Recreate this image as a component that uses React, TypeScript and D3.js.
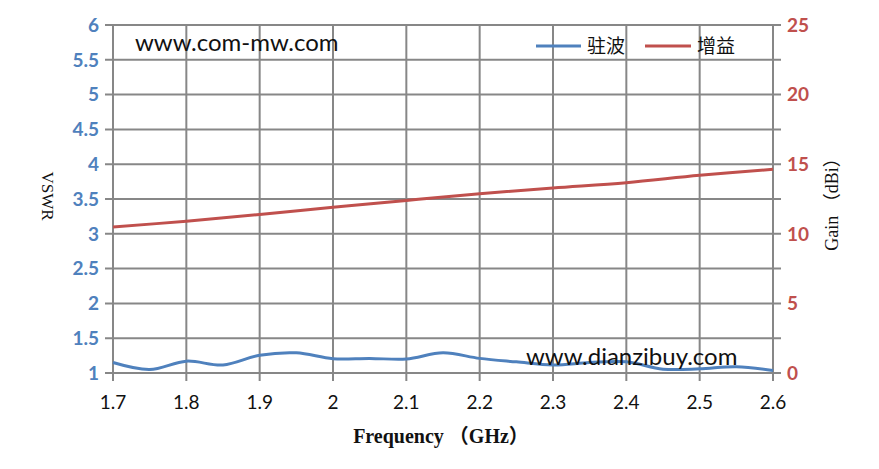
import React from 'react';
import * as d3 from 'd3';

// frequency grid (GHz)
const vswrFreq = [1.7, 1.75, 1.8, 1.85, 1.9, 1.95, 2.0, 2.05, 2.1, 2.15, 2.2, 2.25, 2.3, 2.35, 2.4, 2.45, 2.5, 2.55, 2.6];
const vswrValues = [1.15, 1.05, 1.17, 1.115, 1.255, 1.29, 1.205, 1.21, 1.2, 1.29, 1.21, 1.16, 1.115, 1.15, 1.16, 1.055, 1.06, 1.09, 1.035];

const gainFreq = [1.7, 1.8, 1.9, 2.0, 2.1, 2.2, 2.3, 2.4, 2.5, 2.6];
const gainValues = [10.48, 10.91, 11.39, 11.9, 12.4, 12.88, 13.29, 13.67, 14.2, 14.63];

const xTicks = [1.7, 1.8, 1.9, 2.0, 2.1, 2.2, 2.3, 2.4, 2.5, 2.6];
const leftTicks = [1, 1.5, 2, 2.5, 3, 3.5, 4, 4.5, 5, 5.5, 6];
const rightTicks = [0, 5, 10, 15, 20, 25];

const seriesNames = ['驻波', '增益'];

const W = 879;
const H = 469;
const plot = { left: 113, right: 773, top: 25, bottom: 373 };

const BLUE = '#4F81BD';
const RED = '#C0504D';
const GRID = '#878787';
const NUM_FONT = 'Lato, "Open Sans", sans-serif';
const SERIF = '"Liberation Serif", "Noto Sans CJK SC", serif';

const App: React.FC = () => {
  const x = d3.scaleLinear().domain([1.7, 2.6]).range([plot.left, plot.right]);
  const yL = d3.scaleLinear().domain([1, 6]).range([plot.bottom, plot.top]);
  const yR = d3.scaleLinear().domain([0, 25]).range([plot.bottom, plot.top]);

  const vswrLine = d3.line<number>()
    .x((_, i) => x(vswrFreq[i]))
    .y(d => yL(d))
    .curve(d3.curveCatmullRom.alpha(0.5));

  const gainLine = d3.line<number>()
    .x((_, i) => x(gainFreq[i]))
    .y(d => yR(d))
    .curve(d3.curveCatmullRom.alpha(0.5));

  return (
    <svg width={W} height={H} style={{ position: 'absolute', left: 0, top: 0, background: '#fff' }}>
      {/* horizontal grid with ticks on both sides */}
      {leftTicks.map(t => (
        <line key={'h' + t} x1={plot.left - 8} x2={plot.right + 8} y1={yL(t)} y2={yL(t)}
          stroke={GRID} strokeWidth={2} />
      ))}
      {/* vertical grid with ticks below */}
      {xTicks.map(t => (
        <line key={'v' + t} x1={x(t)} x2={x(t)} y1={plot.top} y2={plot.bottom + 8}
          stroke={GRID} strokeWidth={2} />
      ))}

      {/* left tick labels */}
      {leftTicks.map(t => (
        <text key={'lt' + t} x={99} y={yL(t)} dy="0.36em" textAnchor="end"
          fontFamily={NUM_FONT} fontWeight="bold" fontSize={19} fill={BLUE}>{t}</text>
      ))}
      {/* right tick labels */}
      {rightTicks.map(t => (
        <text key={'rt' + t} x={787} y={yR(t)} dy="0.36em" textAnchor="start"
          fontFamily={NUM_FONT} fontWeight="bold" fontSize={19} fill={RED}>{t}</text>
      ))}
      {/* x tick labels */}
      {xTicks.map(t => (
        <text key={'xt' + t} x={x(t)} y={409} textAnchor="middle"
          fontFamily={NUM_FONT} fontSize={19} fill="#111">{t}</text>
      ))}

      {/* series */}
      <path d={gainLine(gainValues) || ''} fill="none" stroke={RED} strokeWidth={3} />
      <path d={vswrLine(vswrValues) || ''} fill="none" stroke={BLUE} strokeWidth={3} />

      {/* watermarks */}
      <text x={135} y={51} fontFamily={NUM_FONT} fontSize={24} fill="#111">www.com-mw.com</text>
      <text x={526} y={365} fontFamily={NUM_FONT} fontSize={24} fill="#111">www.dianzibuy.com</text>

      {/* legend */}
      <line x1={536} x2={581} y1={46} y2={46} stroke={BLUE} strokeWidth={3} />
      <text x={587} y={53} fontFamily='"Noto Sans CJK SC", sans-serif' fontSize={19} fill="#111">{seriesNames[0]}</text>
      <line x1={645} x2={691} y1={46} y2={46} stroke={RED} strokeWidth={3} />
      <text x={697} y={53} fontFamily='"Noto Sans CJK SC", sans-serif' fontSize={19} fill="#111">{seriesNames[1]}</text>

      {/* axis titles */}
      <text x={441} y={443} textAnchor="middle" fontFamily={SERIF} fontWeight="bold" fontSize={20} fill="#111">
        Frequency （GHz）
      </text>
      <text transform="translate(42,196) rotate(90)" textAnchor="middle" fontFamily={SERIF} fontSize={17} fill="#111">
        VSWR
      </text>
      <text transform="translate(838,200) rotate(-90)" textAnchor="middle" fontFamily={SERIF} fontSize={18} fill="#111">
        Gain （dBi）
      </text>
    </svg>
  );
};

export default App;
